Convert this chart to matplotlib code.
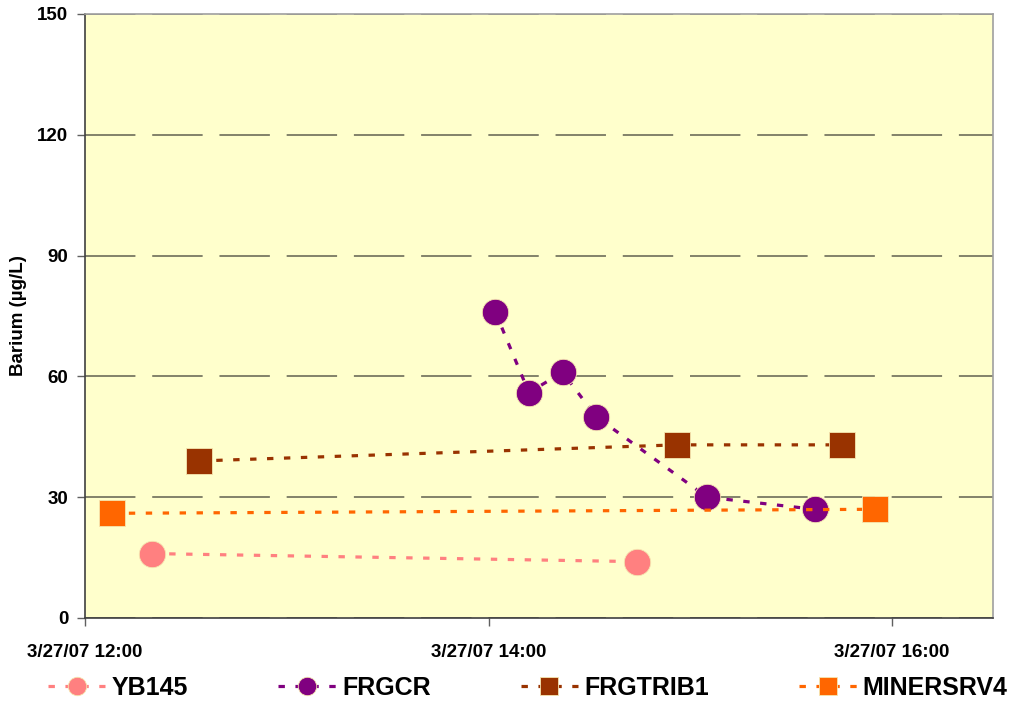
import pandas as pd
import matplotlib
matplotlib.use("Agg")
import matplotlib.pyplot as plt
import matplotlib.dates as mdates

plt.rcParams["font.family"] = ["Liberation Sans", "DejaVu Sans"]
plt.rcParams["font.weight"] = "bold"

# sample data
yb145_times = ["2007-03-27 12:20", "2007-03-27 14:44"]
yb145_vals = [16, 14]

frgcr_times = ["2007-03-27 14:02", "2007-03-27 14:12", "2007-03-27 14:22",
               "2007-03-27 14:32", "2007-03-27 15:05", "2007-03-27 15:37"]
frgcr_vals = [76, 56, 61, 50, 30, 27]

frgtrib1_times = ["2007-03-27 12:34", "2007-03-27 14:56", "2007-03-27 15:45"]
frgtrib1_vals = [39, 43, 43]

minersrv4_times = ["2007-03-27 12:08", "2007-03-27 15:55"]
minersrv4_vals = [26, 27]

xtick_times = ["2007-03-27 12:00", "2007-03-27 14:00", "2007-03-27 16:00"]
xtick_labels = ["3/27/07 12:00", "3/27/07 14:00", "3/27/07 16:00"]
ytick_vals = [0, 30, 60, 90, 120, 150]

fig = plt.figure(figsize=(10.12, 7.02), dpi=100)
ax = fig.add_axes([85 / 1012, 1 - 618 / 702, (993 - 85) / 1012, (618 - 14) / 702])
ax.set_facecolor("#FFFFCC")

series = [
    ("YB145", yb145_times, yb145_vals, "#FF8080", "o"),
    ("FRGCR", frgcr_times, frgcr_vals, "#800080", "o"),
    ("FRGTRIB1", frgtrib1_times, frgtrib1_vals, "#993300", "s"),
    ("MINERSRV4", minersrv4_times, minersrv4_vals, "#FF6600", "s"),
]

for name, t, v, c, m in series:
    ax.plot(pd.to_datetime(t), v, color=c, lw=2.3, dashes=(2, 3.3),
            marker=m, markersize=19 if m == "o" else 18.5,
            markerfacecolor=c, markeredgecolor="#F5E6B0", markeredgewidth=0.6,
            label=name, zorder=3)

ax.set_ylim(0, 150)
ax.set_yticks(ytick_vals)
ax.set_xlim(pd.Timestamp("2007-03-27 12:00"), pd.Timestamp("2007-03-27 16:30"))
ax.set_xticks(mdates.date2num(pd.to_datetime(xtick_times)))
ax.set_xticklabels(xtick_labels)

ax.grid(axis="y", color="#606050", lw=1.1, dashes=(33, 11), zorder=1)
ax.set_axisbelow(True)

ax.tick_params(axis="y", direction="out", length=6, width=1, color="#606060",
               labelsize=13.5, pad=6)
ax.tick_params(axis="x", direction="out", length=6, width=1, color="#606060",
               labelsize=13.5, pad=13)

for s in ["left", "bottom"]:
    ax.spines[s].set_color("#404040")
    ax.spines[s].set_linewidth(1.2)
for s in ["top", "right"]:
    ax.spines[s].set_color("#A0A0A0")
    ax.spines[s].set_linewidth(1.2)

ax.set_ylabel("Barium (µg/L)", fontsize=13.5, fontweight="bold", labelpad=7)

fig.legend(loc="center left", bbox_to_anchor=(48 / 1012, 1 - 688 / 702),
           ncol=4, frameon=False, fontsize=18, markerscale=0.7,
           handlelength=2.3, handletextpad=0.25, columnspacing=3.6,
           borderpad=0, borderaxespad=0)

fig.savefig("out.png", dpi=100)
